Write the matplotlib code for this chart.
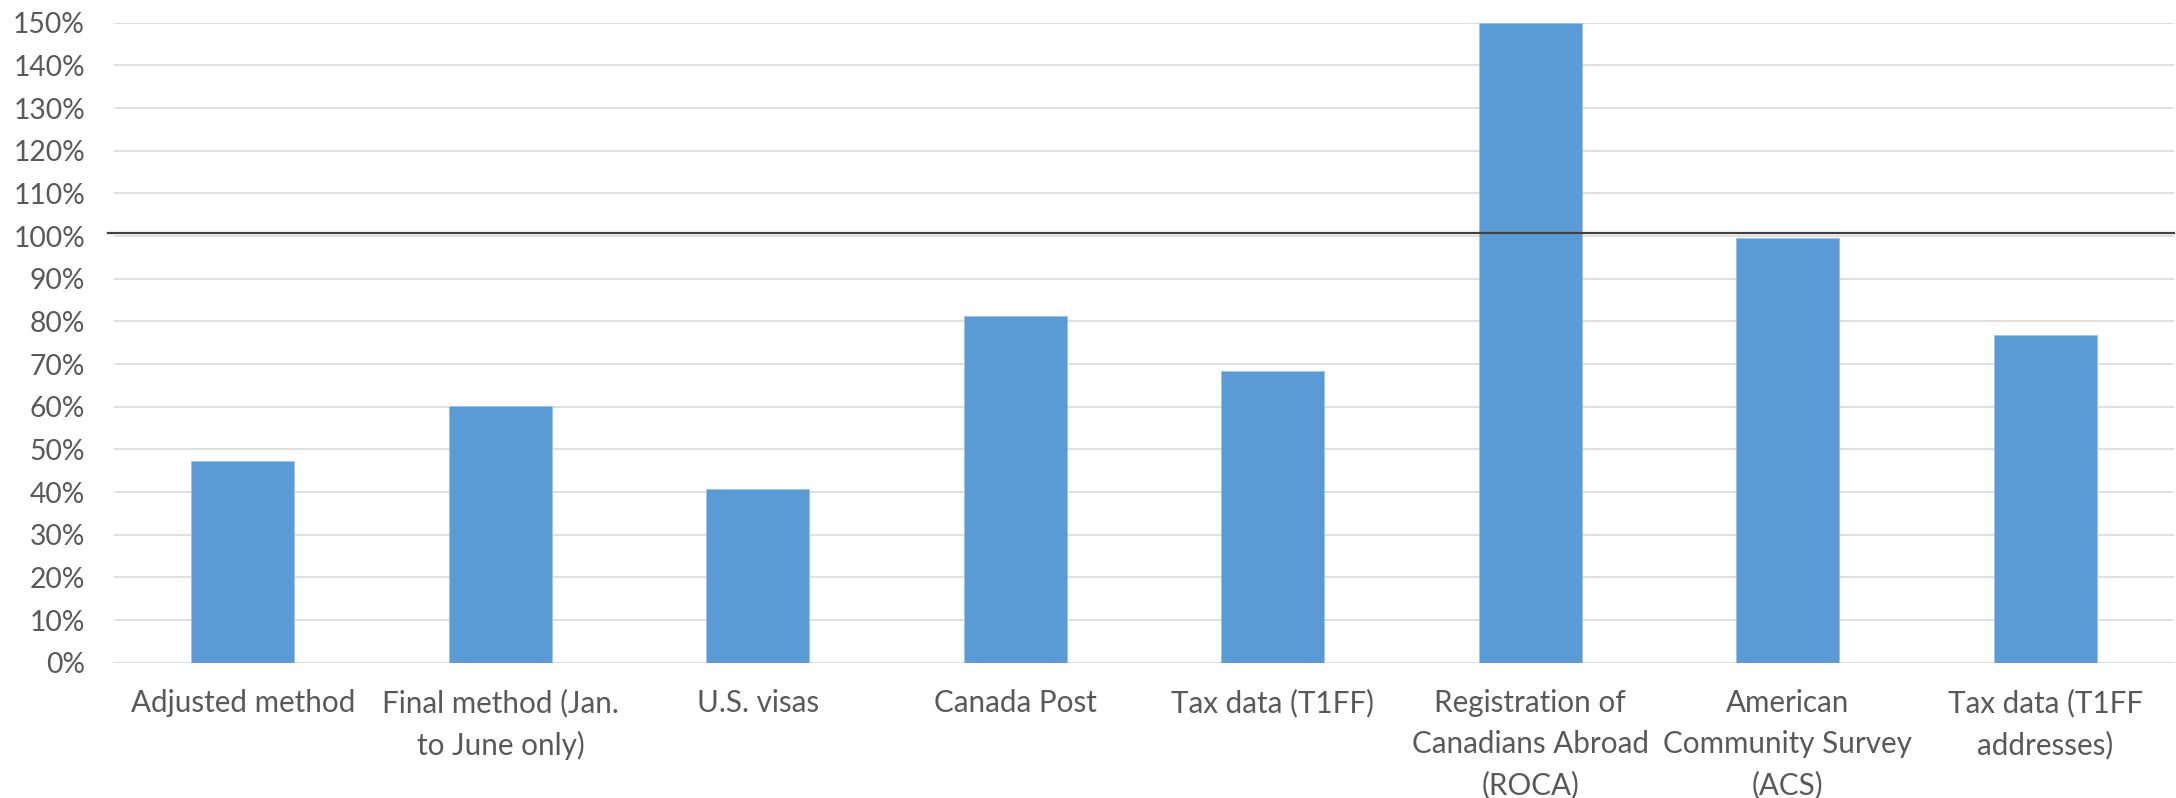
import matplotlib
matplotlib.use("Agg")
import matplotlib.pyplot as plt
from matplotlib.ticker import FuncFormatter

# ---- data ----
categories = [
    "Adjusted method",
    "Final method (Jan.\nto June only)",
    "U.S. visas",
    "Canada Post",
    "Tax data (T1FF)",
    "Registration of\nCanadians Abroad\n(ROCA)",
    "American\nCommunity Survey\n(ACS)",
    "Tax data (T1FF\naddresses)",
]
coverage = [47.3, 60.1, 40.6, 81.2, 68.4, 150.0, 99.6, 76.8]  # percent
reference_level = 100.6
y_ticks = list(range(0, 151, 10))

BAR_BLUE = "#5B9BD5"
GRID = "#D9D9D9"
TEXT = "#595959"
REF_LINE = "#404040"

plt.rcParams.update({
    "font.family": ["Lato", "DejaVu Sans"],
    "font.size": 20,
})

fig = plt.figure(figsize=(21.76, 7.98), dpi=100)
fig.patch.set_facecolor("white")
ax = fig.add_axes([0.0525, 0.1695, 0.9465, 0.8021])

x = range(len(categories))
ax.bar(x, coverage, width=0.4, color=BAR_BLUE, edgecolor="#9DC3E6",
       linewidth=0.6, zorder=2)

ax.axhline(reference_level, xmin=-0.003, xmax=1, color=REF_LINE,
           linewidth=1.6, clip_on=False, zorder=3)

ax.set_xlim(-0.5, len(categories) - 0.5)
ax.set_ylim(0, 150)
ax.set_yticks(y_ticks)
ax.yaxis.set_major_formatter(FuncFormatter(lambda v, _: f"{v:.0f}%"))
ax.yaxis.grid(True, color=GRID, linewidth=1.2, zorder=0)
ax.set_axisbelow(True)

ax.set_xticks(list(x))
ax.set_xticklabels(categories, linespacing=1.55)

for side in ["top", "right", "left", "bottom"]:
    ax.spines[side].set_visible(False)

ax.tick_params(axis="y", length=0, pad=21, colors=TEXT, labelsize=20.3)
ax.tick_params(axis="x", length=0, pad=19, colors=TEXT, labelsize=21.3)

fig.savefig("out.png", dpi=100, facecolor="white")
